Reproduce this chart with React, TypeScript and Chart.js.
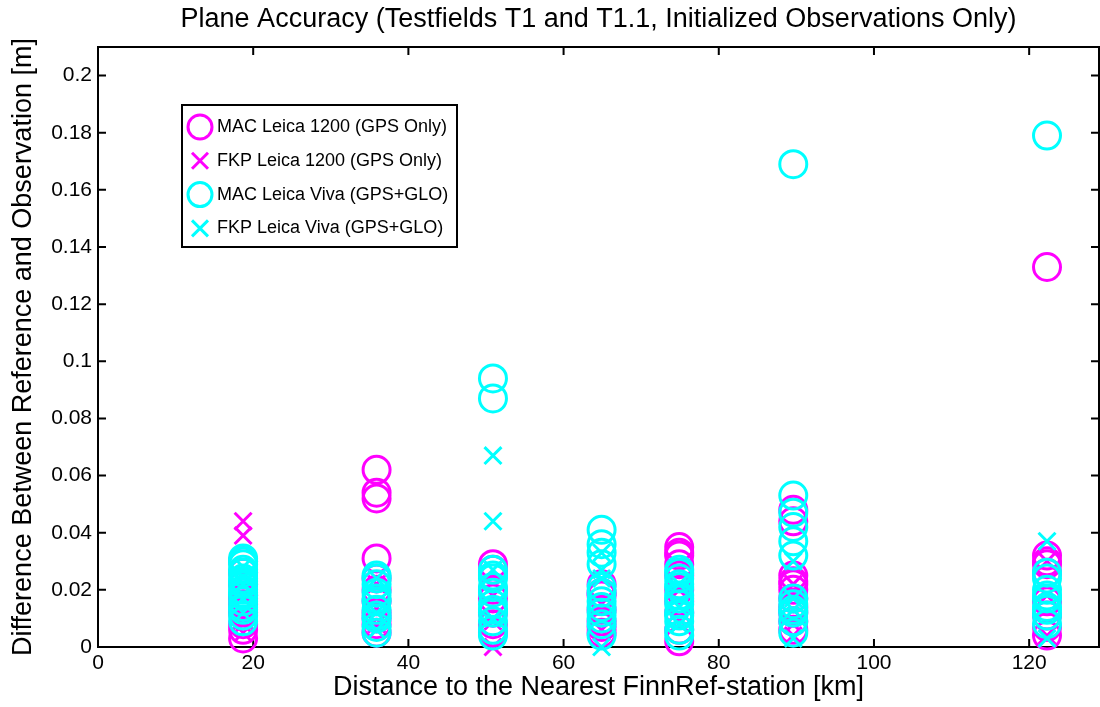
import React, { useEffect, useRef } from "react";
import { Chart, registerables } from "chart.js";

Chart.register(...registerables);

// Distance to nearest FinnRef station [km] for each testfield point group
const stations = [18.7, 35.9, 50.9, 64.9, 74.9, 89.6, 122.3];

// Plane differences [m], one list per station
const mac1200 = [
  [0.003, 0.006, 0.008, 0.012, 0.015, 0.017, 0.018, 0.022, 0.026, 0.03],
  [0.062, 0.054, 0.052, 0.031, 0.024, 0.02, 0.016, 0.012, 0.01, 0.008, 0.005],
  [0.029, 0.027, 0.02, 0.017, 0.012, 0.008, 0.005],
  [0.022, 0.019, 0.018, 0.013, 0.009, 0.007, 0.005],
  [0.035, 0.033, 0.032, 0.029, 0.025, 0.02, 0.016, 0.012, 0.006, 0.002],
  [0.048, 0.044, 0.025, 0.023, 0.022, 0.02, 0.017, 0.014, 0.012, 0.009, 0.006],
  [0.133, 0.032, 0.03, 0.029, 0.026, 0.016, 0.011, 0.007, 0.004],
];
const fkp1200 = [
  [0.044, 0.039, 0.025, 0.018, 0.012, 0.008, 0.005],
  [0.022, 0.014, 0.008],
  [0.018, 0.009, 0.0],
  [0.015, 0.006],
  [0.02, 0.01],
  [0.022, 0.008, 0.004],
  [0.03, 0.018, 0.004],
];
const macViva = [
  [0.031, 0.03, 0.029, 0.027, 0.026, 0.024, 0.023, 0.022, 0.02, 0.019, 0.018, 0.016, 0.014, 0.013, 0.011, 0.009],
  [0.025, 0.024, 0.022, 0.019, 0.017, 0.016, 0.013, 0.011, 0.01, 0.007, 0.005],
  [0.094, 0.087, 0.027, 0.025, 0.024, 0.021, 0.019, 0.015, 0.013, 0.012, 0.009, 0.006, 0.004],
  [0.041, 0.036, 0.033, 0.029, 0.021, 0.019, 0.016, 0.014, 0.012, 0.01, 0.008, 0.004],
  [0.027, 0.026, 0.024, 0.022, 0.021, 0.018, 0.017, 0.015, 0.012, 0.011, 0.009, 0.006, 0.004],
  [0.169, 0.053, 0.047, 0.042, 0.037, 0.032, 0.017, 0.015, 0.013, 0.012, 0.009, 0.005],
  [0.179, 0.026, 0.024, 0.02, 0.018, 0.017, 0.014, 0.013, 0.011, 0.008],
];
const fkpViva = [
  [0.028, 0.022, 0.017, 0.012],
  [0.024, 0.012, 0.006],
  [0.067, 0.044, 0.027, 0.01],
  [0.033, 0.027, 0.024, 0.0],
  [0.022, 0.014, 0.008],
  [0.03, 0.017, 0.013, 0.003],
  [0.037, 0.003],
];

const xTicks = [0, 20, 40, 60, 80, 100, 120];
const yTicks = [0, 0.02, 0.04, 0.06, 0.08, 0.1, 0.12, 0.14, 0.16, 0.18, 0.2];

const seriesLabels = [
  "MAC Leica 1200 (GPS Only)",
  "FKP Leica 1200 (GPS Only)",
  "MAC Leica Viva (GPS+GLO)",
  "FKP Leica Viva (GPS+GLO)",
];

const MAGENTA = "#ff00ff";
const CYAN = "#00ffff";
const FONT = "'Liberation Sans', Arial, sans-serif";

function toPoints(groups: number[][]) {
  const pts: { x: number; y: number }[] = [];
  groups.forEach((vals, i) => vals.forEach((v) => pts.push({ x: stations[i], y: v })));
  return pts;
}

const framePlugin = {
  id: "frame",
  beforeDatasetsDraw(chart: any) {
    const { ctx, chartArea, scales } = chart;
    const { left, right, top, bottom } = chartArea;
    ctx.save();
    ctx.strokeStyle = "#000";
    ctx.lineWidth = 2;
    ctx.strokeRect(left, top, right - left, bottom - top);
    ctx.beginPath();
    for (const v of xTicks) {
      const px = scales.x.getPixelForValue(v);
      ctx.moveTo(px, bottom);
      ctx.lineTo(px, bottom - 8);
      ctx.moveTo(px, top);
      ctx.lineTo(px, top + 8);
    }
    for (const v of yTicks) {
      const py = scales.y.getPixelForValue(v);
      ctx.moveTo(left, py);
      ctx.lineTo(left + 8, py);
      ctx.moveTo(right, py);
      ctx.lineTo(right - 8, py);
    }
    ctx.stroke();
    ctx.restore();
  },
};

const legendPlugin = {
  id: "customLegend",
  afterDraw(chart: any) {
    const { ctx } = chart;
    const bx = 182, by = 105, bw = 275, bh = 142;
    ctx.save();
    ctx.fillStyle = "#fff";
    ctx.fillRect(bx, by, bw, bh);
    ctx.strokeStyle = "#000";
    ctx.lineWidth = 2;
    ctx.strokeRect(bx, by, bw, bh);
    chart.data.datasets.forEach((ds: any, i: number) => {
      const cy = by + 22 + i * 33.8;
      const cx = bx + 18;
      ctx.strokeStyle = ds.borderColor;
      ctx.lineWidth = 3;
      ctx.beginPath();
      if (ds.pointStyle === "circle") {
        ctx.arc(cx, cy, 12, 0, Math.PI * 2);
      } else {
        const d = 8;
        ctx.moveTo(cx - d, cy - d);
        ctx.lineTo(cx + d, cy + d);
        ctx.moveTo(cx + d, cy - d);
        ctx.lineTo(cx - d, cy + d);
      }
      ctx.stroke();
      ctx.fillStyle = "#000";
      ctx.font = `18px ${FONT}`;
      ctx.textBaseline = "middle";
      ctx.textAlign = "left";
      ctx.fillText(ds.label, bx + 35, cy);
    });
    ctx.restore();
  },
};

export default function App() {
  const ref = useRef<HTMLCanvasElement | null>(null);

  useEffect(() => {
    if (!ref.current) return;
    const mk = (label: string, data: number[][], color: string, style: string, order: number) => ({
      label,
      data: toPoints(data),
      borderColor: color,
      backgroundColor: "rgba(0,0,0,0)",
      pointStyle: style,
      pointRadius: style === "circle" ? 13.5 : 12,
      pointBorderWidth: 3,
      pointBackgroundColor: "rgba(0,0,0,0)",
      pointBorderColor: color,
      showLine: false,
      clip: false as any,
      order,
    });
    const chart = new Chart(ref.current, {
      type: "scatter",
      data: {
        datasets: [
          mk(seriesLabels[0], mac1200, MAGENTA, "circle", 4),
          mk(seriesLabels[1], fkp1200, MAGENTA, "crossRot", 3),
          mk(seriesLabels[2], macViva, CYAN, "circle", 2),
          mk(seriesLabels[3], fkpViva, CYAN, "crossRot", 1),
        ] as any,
      },
      options: {
        animation: false,
        responsive: true,
        maintainAspectRatio: false,
        events: [],
        layout: { autoPadding: false, padding: { top: 0, right: 1, left: 0, bottom: 0 } },
        plugins: {
          legend: { display: false },
          tooltip: { enabled: false },
          title: {
            display: true,
            text: "Plane Accuracy (Testfields T1 and T1.1, Initialized Observations Only)",
            fullSize: false,
            color: "#000",
            font: { family: FONT, size: 27, weight: "normal" as any },
            padding: { top: 3, bottom: 11.6 },
          },
        },
        scales: {
          x: {
            type: "linear",
            min: 0,
            max: 129,
            afterFit: (s: any) => {
              s.height = 60;
              s.paddingLeft = 0;
              s.paddingRight = 0;
            },
            afterBuildTicks: (s: any) => {
              s.ticks = xTicks.map((v) => ({ value: v }));
            },
            grid: { display: false, drawTicks: false },
            border: { display: false },
            ticks: {
              color: "#000",
              padding: 4,
              maxRotation: 0,
              font: { family: FONT, size: 21 },
              callback: (v: any) => String(v),
            },
            title: {
              display: true,
              text: "Distance to the Nearest FinnRef-station [km]",
              color: "#000",
              font: { family: FONT, size: 27 },
              padding: { top: 0, bottom: 3 },
            },
          },
          y: {
            type: "linear",
            min: 0,
            max: 0.21,
            afterFit: (s: any) => {
              s.width = 98;
              s.paddingTop = 0;
              s.paddingBottom = 0;
            },
            afterBuildTicks: (s: any) => {
              s.ticks = yTicks.map((v) => ({ value: v }));
            },
            grid: { display: false, drawTicks: false },
            border: { display: false },
            ticks: {
              color: "#000",
              padding: 6,
              font: { family: FONT, size: 21 },
              callback: (v: any) => String(v),
            },
            title: {
              display: true,
              text: "Difference Between Reference and Observation [m]",
              color: "#000",
              font: { family: FONT, size: 27 },
              padding: { top: 7, bottom: 0 },
            },
          },
        },
      } as any,
      plugins: [framePlugin, legendPlugin],
    });
    return () => chart.destroy();
  }, []);

  return (
    <div style={{ position: "fixed", left: 0, top: 0, width: 1100, height: 707, background: "#fff" }}>
      <canvas ref={ref} />
    </div>
  );
}
